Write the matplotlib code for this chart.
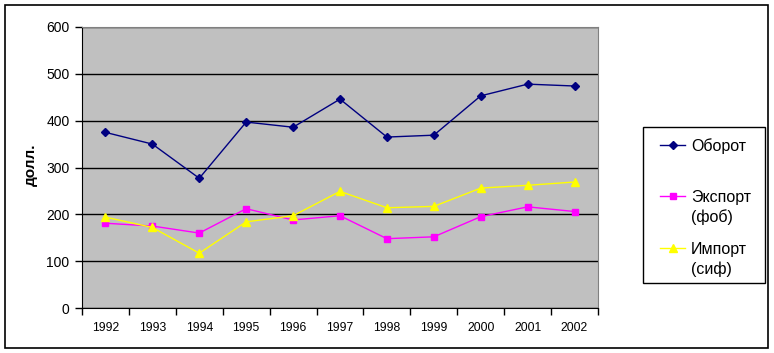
import numpy as np
import matplotlib.pyplot as plt
from matplotlib.patches import Rectangle
from matplotlib.lines import Line2D

plt.rcParams['font.family'] = ['Liberation Sans', 'DejaVu Sans']

years = ['1992', '1993', '1994', '1995', '1996', '1997', '1998', '1999', '2000', '2001', '2002']
oborot = [375, 350, 277, 397, 386, 446, 365, 369, 453, 478, 474]
eksport = [181, 175, 160, 212, 188, 197, 148, 152, 195, 216, 206]
import_ = [194, 172, 117, 184, 197, 249, 214, 217, 256, 262, 269]
labels = [['Оборот'], ['Экспорт', '(фоб)'], ['Импорт', '(сиф)']]

W, H = 774, 353
fig = plt.figure(figsize=(W / 100, H / 100), dpi=100)
ax = fig.add_axes([82/W, 45/H, 516/W, 281/H])
ax.set_facecolor('#c0c0c0')

x = np.arange(len(years))
styles = [dict(color='#000080', marker='D', markersize=4.5),
          dict(color='#ff00ff', marker='s', markersize=4.5),
          dict(color='#ffff00', marker='^', markersize=5.5)]
for vals, st in zip([oborot, eksport, import_], styles):
    ax.plot(x, vals, lw=1, **st)

ax.set_xlim(-0.5, len(years) - 0.5)
ax.set_ylim(0, 600)
ax.set_yticks(np.arange(0, 601, 100))
ax.yaxis.grid(True, color='black', lw=1)
ax.set_axisbelow(True)
ax.set_xticks(x)
ax.set_xticklabels(years, fontsize=8.7)
ax.set_xticks(np.arange(-0.5, len(years)), minor=True)
ax.tick_params(axis='x', which='major', length=0, pad=10)
ax.tick_params(axis='x', which='minor', length=5, width=1, direction='out', color='black')
ax.tick_params(axis='y', labelsize=10, length=5, width=1, direction='out', pad=4)
for s in ['top', 'right']:
    ax.spines[s].set_color('#808080')
for s in ['left', 'bottom']:
    ax.spines[s].set_color('black')
fig.text(31/W, 1 - 165/H, 'долл.', fontsize=11, fontweight='bold',
         rotation=90, ha='center', va='center')

# legend, Excel style: equal slots, text top-aligned
fig.patches.append(Rectangle((643/W, 1 - 283/H), 122/W, 156/H, transform=fig.transFigure,
                             fill=False, edgecolor='black', lw=1))
first_lines = [145, 196, 248]
for st, lab, yc in zip(styles, labels, first_lines):
    fy = 1 - yc / H
    fig.add_artist(Line2D([660/W, 685/W], [fy, fy], transform=fig.transFigure,
                          lw=1, color=st['color']))
    fig.add_artist(Line2D([672.5/W], [fy], transform=fig.transFigure, lw=0,
                          marker=st['marker'], markersize=st['markersize'],
                          color=st['color']))
    for k, line in enumerate(lab):
        fig.text(691/W, 1 - (yc + 20*k) / H, line, fontsize=11.5,
                 ha='left', va='center_baseline')

fig.patches.append(Rectangle((5/W, 5/H), 763/W, 343/H, transform=fig.transFigure,
                             fill=False, edgecolor='black', lw=1.2))

fig.savefig('out.png', dpi=100)
